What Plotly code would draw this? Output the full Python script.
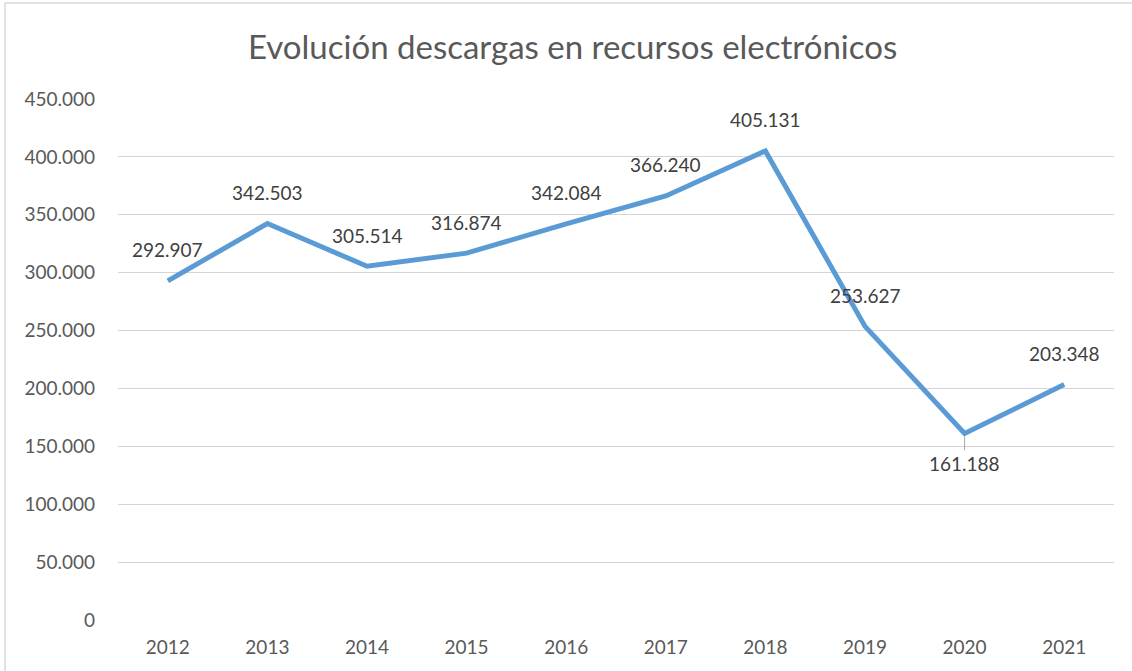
import plotly.graph_objects as go

years = ["2012", "2013", "2014", "2015", "2016", "2017", "2018", "2019", "2020", "2021"]
downloads = [292907, 342503, 305514, 316874, 342084, 366240, 405131, 253627, 161188, 203348]
label_below = [False, False, False, False, False, False, False, False, True, False]
title_text = "Evolución descargas en recursos electrónicos"

def es_fmt(v):
    return f"{v:,}".replace(",", ".")

FONT = "Lato"
GRAY = "#595959"

fig = go.Figure()
fig.add_trace(go.Scatter(
    x=years, y=downloads, mode="lines",
    line=dict(color="#5B9BD5", width=5),
    hoverinfo="skip", showlegend=False,
))

annotations = []
for i, (v, below) in enumerate(zip(downloads, label_below)):
    if below:
        annotations.append(dict(
            x=i, y=v, xref="x", yref="y", text=es_fmt(v),
            showarrow=True, arrowhead=0, arrowwidth=1, arrowcolor="#A6A6A6",
            ax=0, ay=30, standoff=3,
            font=dict(family=FONT, size=19, color="#404040"),
        ))
    else:
        annotations.append(dict(
            x=i, y=v, xref="x", yref="y", text=es_fmt(v),
            showarrow=False, yshift=31,
            font=dict(family=FONT, size=19, color="#404040"),
        ))

annotations.append(dict(
    text=title_text, xref="paper", yref="paper", x=0.456, y=1.0,
    yshift=53, showarrow=False, xanchor="center", yanchor="middle",
    font=dict(family=FONT, size=33, color=GRAY),
))

fig.update_layout(
    width=1132, height=671,
    margin=dict(l=118, r=18, t=99, b=51),
    paper_bgcolor="white", plot_bgcolor="white",
    separators=",.",
    annotations=annotations,
    xaxis=dict(
        type="category", showgrid=False, showline=False, zeroline=False,
        ticks="", tickfont=dict(family=FONT, size=19, color=GRAY),
        range=[-0.5, 9.5], ticklabelstandoff=14,
    ),
    yaxis=dict(
        range=[0, 450000], dtick=50000, tickformat=",d",
        showgrid=True, gridcolor="#D4D4D4", gridwidth=1,
        zeroline=False, showline=False, ticks="",
        tickfont=dict(family=FONT, size=19, color=GRAY),
        ticklabelstandoff=22,
    ),
    shapes=[dict(
        type="rect", xref="paper", yref="paper",
        x0=(5 - 118) / 996, x1=(1140 - 118) / 996,
        y0=(620 - 680) / 521, y1=(620 - 3) / 521,
        line=dict(color="#D9D9D9", width=1.5), layer="below",
    )],
)

fig.write_html("out.html", config={"displayModeBar": False},
               post_script="document.body.style.margin='0';")
